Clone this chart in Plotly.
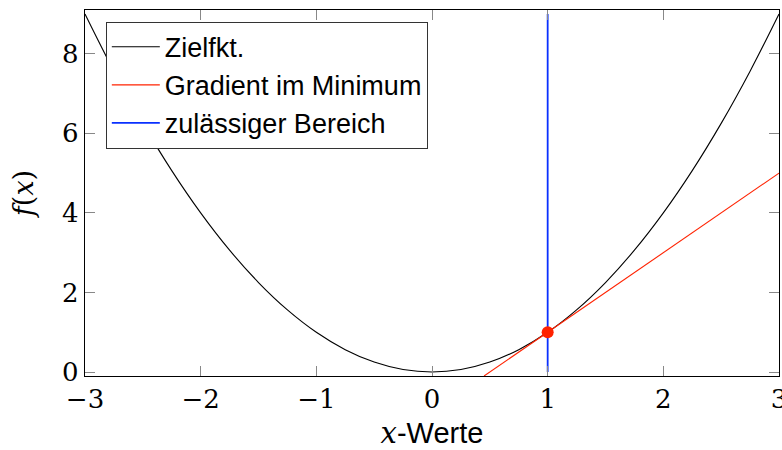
import plotly.graph_objects as go

# Objective function samples
x_obj = [-3, -2.75, -2.5, -2.25, -2, -1.75, -1.5, -1.25, -1, -0.75, -0.5, -0.25, 0,
         0.25, 0.5, 0.75, 1, 1.25, 1.5, 1.75, 2, 2.25, 2.5, 2.75, 3]
y_obj = [9, 7.5625, 6.25, 5.0625, 4, 3.0625, 2.25, 1.5625, 1, 0.5625, 0.25, 0.0625, 0,
         0.0625, 0.25, 0.5625, 1, 1.5625, 2.25, 3.0625, 4, 5.0625, 6.25, 7.5625, 9]

# Gradient (tangent) line endpoints
x_grad = [0.45, 3]
y_grad = [-0.1, 5]

# Feasible region boundary
x_feas = [1, 1]
y_feas = [0, 9]

# Minimum point
x_min = [1]
y_min = [1]

x_ticks = [-3, -2, -1, 0, 1, 2, 3]
y_ticks = [0, 2, 4, 6, 8]

serif = "DejaVu Serif"
sans = "Liberation Sans"

fig = go.Figure()
fig.add_trace(go.Scatter(x=x_obj, y=y_obj, mode="lines", name="Zielfkt.",
                         line=dict(color="black", width=1.1, shape="spline")))
fig.add_trace(go.Scatter(x=x_grad, y=y_grad, mode="lines", name="Gradient im Minimum",
                         line=dict(color="#ff2200", width=1.1)))
fig.add_trace(go.Scatter(x=x_feas, y=y_feas, mode="lines", name="zulässiger Bereich",
                         line=dict(color="#0a30ff", width=1.8)))
fig.add_trace(go.Scatter(x=x_min, y=y_min, mode="markers", showlegend=False,
                         marker=dict(color="#ff2200", size=12, line=dict(width=0))))

axis_common = dict(
    showgrid=False, zeroline=False, showline=True, linecolor="black", linewidth=1.3,
    mirror="ticks", ticks="inside", ticklen=10, tickcolor="#888888", tickwidth=1,
    tickfont=dict(family=serif, size=26, color="black"),
    ticklabeloverflow="allow",
)

fig.update_layout(
    width=782, height=450,
    margin=dict(l=85, r=3, t=10, b=74),
    paper_bgcolor="white", plot_bgcolor="white",
    font=dict(family=sans),
    xaxis=dict(range=[-3, 3], tickvals=x_ticks, automargin=False, **axis_common,
               title=dict(text="<i style=\"font-family:DejaVu Serif\">x</i>-Werte",
                          font=dict(family=sans, size=29, color="black"), standoff=12)),
    yaxis=dict(range=[-0.1, 9.1], tickvals=y_ticks, automargin=True, **axis_common,
               title=dict(text="<i>f</i>(<i>x</i>)",
                          font=dict(family=serif, size=27, color="black"), standoff=20)),
    legend=dict(x=0.03, y=0.968, xanchor="left", yanchor="top",
                bgcolor="white", bordercolor="#333333", borderwidth=1,
                font=dict(family=sans, size=27, color="black"),
                itemwidth=48, tracegroupgap=0),
    showlegend=True,
)

fig.write_html("out.html")
